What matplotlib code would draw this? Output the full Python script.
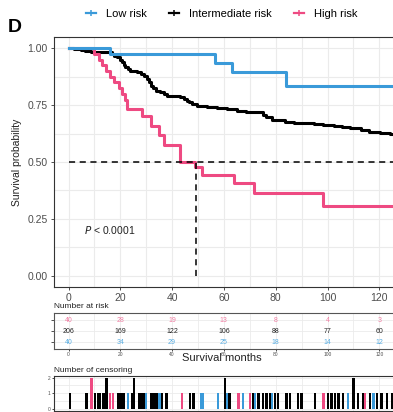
import matplotlib.pyplot as plt
from matplotlib.lines import Line2D
from matplotlib.ticker import MultipleLocator

plt.rcParams['font.family'] = ['Liberation Sans', 'DejaVu Sans']

# ---- data ----
groups = ["Low risk", "Intermediate risk", "High risk"]
colors = {"Low risk": "#3A9AD9", "Intermediate risk": "#000000", "High risk": "#EE4A82"}
table_colors = {"Low risk": "#5AAEE2", "Intermediate risk": "#222222", "High risk": "#F07FA3"}

low_t = [0, 16.2, 56.4, 63.0, 83.8, 130]
low_s = [1.0, 0.975, 0.935, 0.895, 0.836, 0.836]

inter_t = [0, 2.1, 4.7, 6.2, 8.5, 10.4, 12.4, 14.9, 16.9, 17.6,
           18.8, 19.7, 20.7, 21.3, 22.0, 22.8, 23.9, 26.5, 28.0, 29.1,
           30.4, 31.1, 31.7, 32.6, 33.6, 35.5, 36.8, 38.1, 40.6, 43.2,
           44.5, 45.8, 46.6, 47.8, 49.7, 53.6, 57.4, 61.3, 65.2, 68.4,
           74.1, 75.1, 76.1, 78.7, 83.4, 87.0, 91.2, 94.7, 98.4, 102.5,
           105.7, 108.8, 112.8, 116.0, 120.2, 124.3, 130]
inter_s = [1.0, 0.997, 0.994, 0.99, 0.985, 0.985, 0.982, 0.982, 0.975, 0.968,
           0.96, 0.951, 0.939, 0.928, 0.917, 0.91, 0.902, 0.895, 0.887, 0.88,
           0.865, 0.85, 0.836, 0.825, 0.814, 0.807, 0.8, 0.792, 0.789, 0.785,
           0.778, 0.77, 0.763, 0.756, 0.748, 0.741, 0.737, 0.734, 0.726, 0.722,
           0.719, 0.708, 0.697, 0.687, 0.678, 0.673, 0.670, 0.668, 0.663, 0.658,
           0.654, 0.649, 0.639, 0.634, 0.629, 0.624, 0.62]

high_t = [0, 9.7, 11.7, 13.0, 14.3, 16.2, 17.4, 19.4, 20.7, 22.0, 22.6,
          28.5, 31.7, 34.9, 36.8, 43.2, 49.0, 51.6, 63.8, 71.8, 98.4, 130]
high_s = [1.0, 0.975, 0.95, 0.925, 0.9, 0.875, 0.85, 0.825, 0.8, 0.775, 0.735,
          0.704, 0.66, 0.617, 0.573, 0.5, 0.478, 0.441, 0.409, 0.365, 0.305, 0.305]

median_time = 49.1

risk_times = [0, 20, 40, 60, 80, 100, 120]
risk_low = [40, 34, 29, 25, 18, 14, 12]
risk_inter = [206, 169, 122, 106, 88, 77, 60]
risk_high = [40, 28, 19, 13, 8, 4, 3]

cens_inter_t = [0.6, 7.0, 10.2, 11.3, 12.2, 13.2, 14.1, 14.7, 19.2, 20.1, 21.2, 24.4, 25.4,
                27.4, 28.3, 29.2, 32.1, 33.0, 34.0, 36.0, 37.9, 46.9, 48.2, 60.4, 61.7,
                62.4, 71.4, 73.3, 75.2, 76.5, 77.8, 79.7, 81.0, 84.2, 85.5, 88.7, 90.0,
                95.2, 100.3, 101.6, 102.9, 104.2, 106.1, 110.0, 111.9, 113.8, 116.4, 119.0,
                120.9, 122.9, 124.8]
cens_inter_n = [1, 1, 1, 1, 1, 1, 1, 2, 1, 1, 1, 1, 2,
                1, 1, 1, 1, 1, 1, 1, 1, 1, 1, 2, 1,
                1, 1, 1, 1, 1, 1, 1, 1, 1, 1, 1, 1,
                1, 1, 1, 1, 1, 1, 2, 1, 1, 1, 1,
                1, 1, 1]
cens_high_t = [8.9, 16.0, 17.3, 43.7, 65.6, 70.1, 98.4, 114.5]
cens_high_n = [2, 1, 1, 1, 1, 1, 1, 1]
cens_low_t = [23.1, 29.9, 35.1, 51.4, 52.0, 57.8, 61.1, 67.5, 72.0, 78.5, 108.0, 117.7]
cens_low_n = [1, 1, 1, 1, 1, 1, 1, 1, 1, 1, 1, 1]

# ---- layout (pixel boxes) ----
W, H = 393, 412
XMIN, XMAX = -5.6, 130
PX_PER_MONTH = 2.59


def box(l, t, r, b):
    return [l / W, 1 - b / H, (r - l) / W, (b - t) / H]


right_px = 54 + (XMAX - XMIN) * PX_PER_MONTH

fig = plt.figure(figsize=(W / 100, H / 100), dpi=100)
grid_c = "#EBEBEB"
tick_c = "#4D4D4D"

# main survival plot
ax = fig.add_axes(box(54, 37, right_px, 287))
ax.set_xlim(XMIN, XMAX)
ax.set_ylim(-0.05, 1.05)
ax.set_xticks([0, 20, 40, 60, 80, 100, 120])
ax.xaxis.set_minor_locator(MultipleLocator(10))
ax.set_yticks([0, 0.25, 0.5, 0.75, 1.0])
ax.set_yticklabels(["0.00", "0.25", "0.50", "0.75", "1.00"])
ax.yaxis.set_minor_locator(MultipleLocator(0.125))
ax.grid(which="both", color=grid_c, lw=0.8)
ax.set_axisbelow(True)
ax.tick_params(which="minor", length=0)
ax.tick_params(which="major", length=2.5, width=0.6, color="#333333",
               labelsize=7.5, labelcolor=tick_c, pad=2)
for sp in ax.spines.values():
    sp.set_color("#333333")
    sp.set_linewidth(0.8)

ax.step(inter_t, inter_s, where="post", color=colors["Intermediate risk"], lw=2.2)
ax.step(high_t, high_s, where="post", color=colors["High risk"], lw=2.2)
ax.step(low_t, low_s, where="post", color=colors["Low risk"], lw=2.2)

ax.plot([0, XMAX], [0.5, 0.5], color="black", lw=1.1, dashes=(4, 3))
ax.plot([median_time, median_time], [0, 0.5], color="black", lw=1.1, dashes=(4, 3))

ax.text(6, 0.2, r"$P$ < 0.0001", fontsize=7.5, color="#222222", va="center")
ax.set_ylabel("Survival probability", fontsize=7.5, color="#222222", labelpad=4)

# legend
handles = [Line2D([], [], color=colors[g], lw=1.6, marker="+", markersize=5,
                  markeredgewidth=1.1) for g in groups]
fig.legend(handles, groups, loc="center", bbox_to_anchor=(222 / W, 1 - 14 / H),
           ncol=3, frameon=False, fontsize=8, handlelength=0.9,
           handletextpad=0.9, columnspacing=2.0)

fig.text(8 / W, 1 - 27 / H, "D", fontsize=14, fontweight="bold", va="center")

# risk table
rt = fig.add_axes(box(54, 313, right_px, 349))
rt.set_xlim(XMIN, XMAX)
rt.set_ylim(0.4, 3.67)
rt.set_xticks([0, 20, 40, 60, 80, 100, 120])
rt.xaxis.set_minor_locator(MultipleLocator(10))
rt.set_yticks([1, 2, 3])
rt.set_yticklabels([])
rt.grid(which="both", color=grid_c, lw=0.6)
rt.set_axisbelow(True)
rt.tick_params(which="minor", length=0)
rt.tick_params(axis="y", length=2, width=0.6, color="#333333")
rt.tick_params(axis="x", length=1.5, width=0.5, labelsize=3.5, labelcolor=tick_c, pad=1)
for sp in rt.spines.values():
    sp.set_color("#555555")
    sp.set_linewidth(0.8)
for row, g, vals in [(3, "High risk", risk_high), (2, "Intermediate risk", risk_inter),
                     (1, "Low risk", risk_low)]:
    for t, v in zip(risk_times, vals):
        rt.text(t, row, str(v), fontsize=5, color=table_colors[g], ha="center", va="center")
fig.text(54 / W, 1 - 306 / H, "Number at risk", fontsize=6, color="#222222", va="center")
fig.text(222 / W, 1 - 358 / H, "Survival months", fontsize=8, color="#222222",
         ha="center", va="center")

# censoring plot
cp = fig.add_axes(box(54, 376, right_px, 410.6))
cp.set_xlim(XMIN, XMAX)
cp.set_ylim(-0.1, 2.1)
cp.set_xticks([0, 20, 40, 60, 80, 100, 120])
cp.xaxis.set_minor_locator(MultipleLocator(10))
cp.set_yticks([0, 1, 2])
cp.yaxis.set_minor_locator(MultipleLocator(0.5))
cp.grid(which="both", color=grid_c, lw=0.6)
cp.set_axisbelow(True)
cp.tick_params(which="minor", length=0)
cp.tick_params(length=1.5, width=0.5, labelsize=3.5, labelcolor=tick_c, pad=1)
cp.set_xticklabels([])
for sp in cp.spines.values():
    sp.set_color("#333333")
    sp.set_linewidth(0.8)
cp.bar(cens_inter_t, cens_inter_n, width=0.9, color=colors["Intermediate risk"])
cp.bar(cens_low_t, cens_low_n, width=0.9, color=colors["Low risk"])
cp.bar(cens_high_t, cens_high_n, width=0.9, color=colors["High risk"])
fig.text(54 / W, 1 - 370 / H, "Number of censoring", fontsize=6, color="#222222", va="center")

fig.savefig("out.png", dpi=100)
